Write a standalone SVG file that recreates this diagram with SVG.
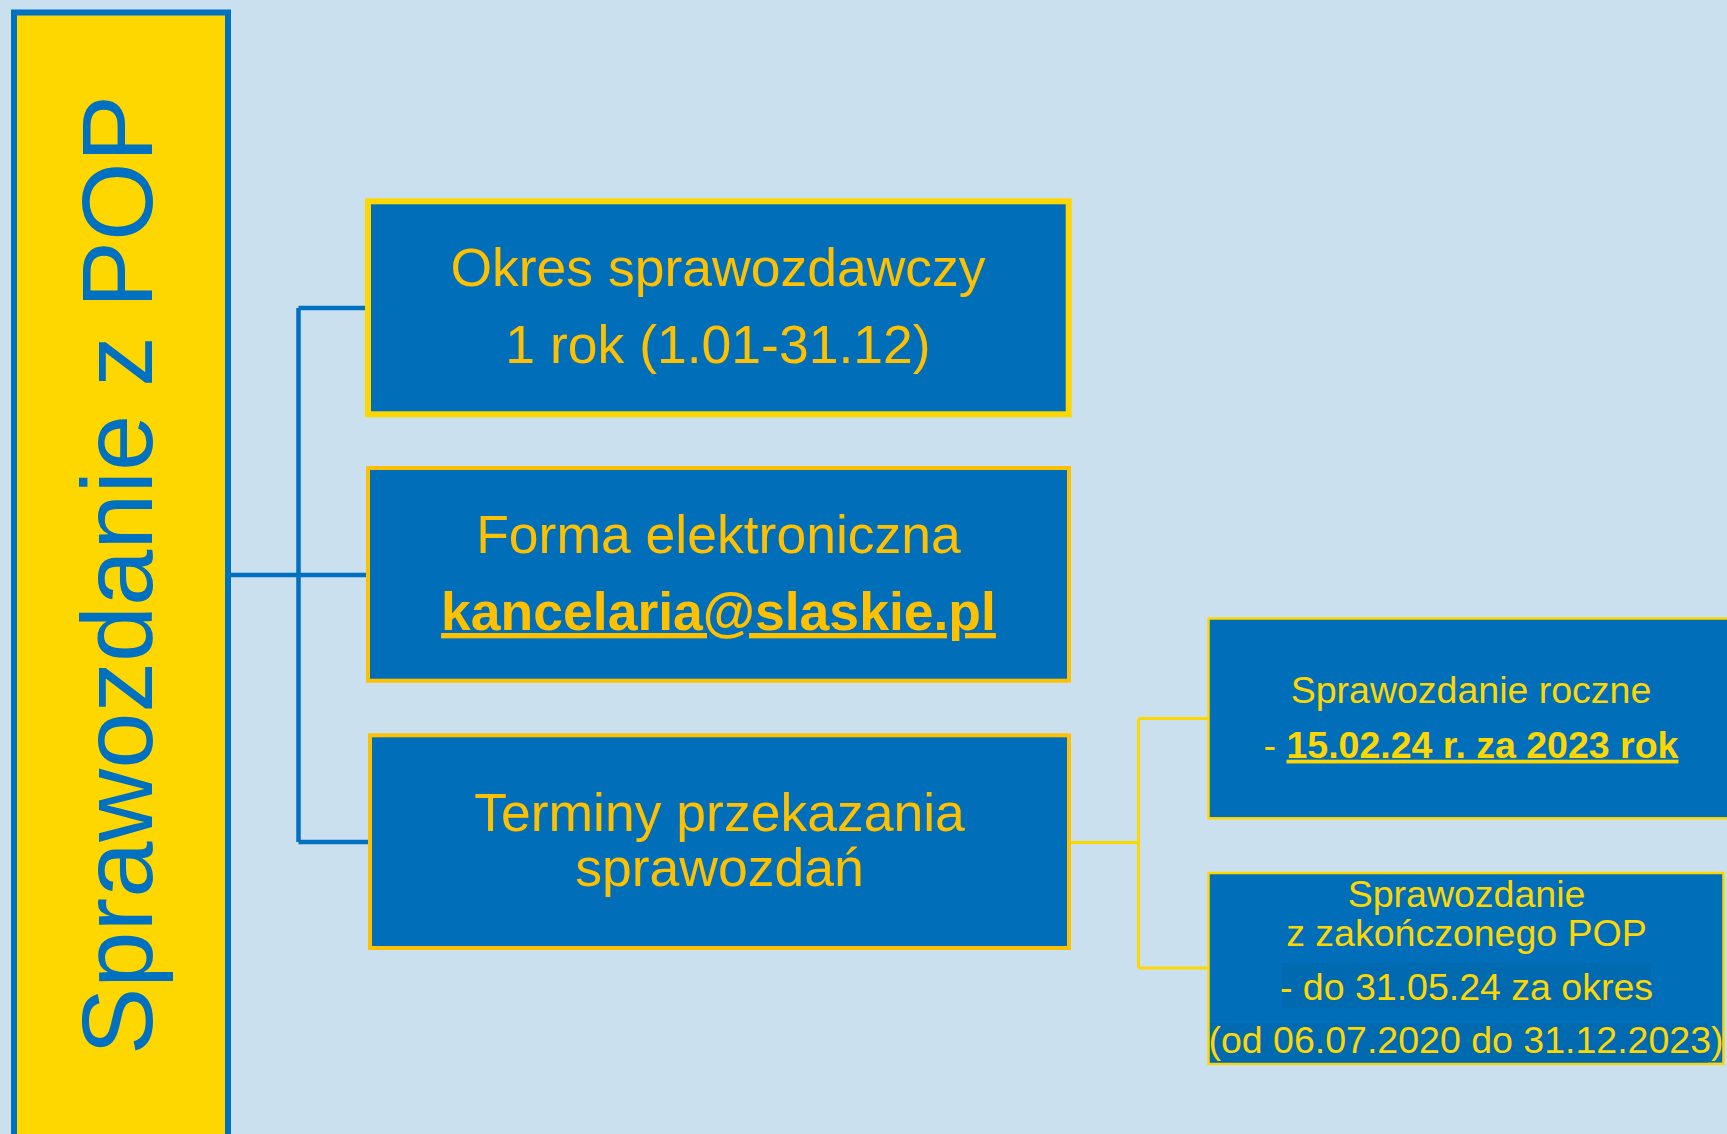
<svg xmlns="http://www.w3.org/2000/svg" width="1727" height="1134" viewBox="0 0 1727 1134">
<style>
  .t { font-family: "Liberation Sans", Arial, sans-serif; text-anchor: middle; }
  .big { font-size: 53.5px; fill: #FFC000; }
  .small { font-size: 37.5px; fill: #FFD700; }
  .box { fill: #006EB8; }
  .blue-line { stroke: #0070C0; stroke-width: 4.5; fill: none; }
  .yel-line { stroke: #FFD700; stroke-width: 3; fill: none; }
</style>
<rect x="0" y="0" width="1727" height="1134" fill="#CBE0EE"/>

<g id="connectors">
  <path class="blue-line" d="M231 575 H366 M298.5 308 V842 M298.5 308 H368 M298.5 842 H370"/>
  <path class="yel-line" d="M1071 842.5 H1138.5 M1138.5 718.5 V968 M1138.5 718.5 H1209 M1138.5 968 H1209"/>
</g>

<g id="root">
  <rect x="14" y="12.5" width="214" height="1130" fill="#FFD700" stroke="#0070C0" stroke-width="6"/>
  <text class="t" transform="translate(152,575) rotate(-90)" font-size="101" fill="#0070C0">Sprawozdanie z POP</text>
</g>

<g id="okres">
  <rect class="box" x="368" y="201.3" width="700.7" height="213" stroke="#FFD700" stroke-width="6"/>
  <text class="t big" x="718" y="286">Okres sprawozdawczy</text>
  <text class="t big" x="718" y="362.5">1 rok (1.01-31.12)</text>
</g>

<g id="forma">
  <rect class="box" x="368" y="468" width="701" height="212.7" stroke="#FFC000" stroke-width="4"/>
  <text class="t big" x="718.5" y="553.3">Forma elektroniczna</text>
  <text class="t big" x="718.5" y="630" font-weight="bold" text-decoration="underline">kancelaria@slaskie.pl</text>
</g>

<g id="terminy">
  <rect class="box" x="370" y="735.3" width="699" height="212.7" stroke="#FFC000" stroke-width="4"/>
  <text class="t big" x="719.5" y="831">Terminy przekazania</text>
  <text class="t big" x="719.5" y="885.7">sprawozdań</text>
</g>

<g id="roczne">
  <rect class="box" x="1208.5" y="618.5" width="530" height="199.8" stroke="#FFD700" stroke-width="2.5"/>
  <text class="t small" x="1471" y="702.7">Sprawozdanie roczne</text>
  <text class="t small" x="1471" y="757.7">- <tspan font-weight="bold" text-decoration="underline">15.02.24 r. za 2023 rok</tspan></text>
</g>

<g id="zakonczony">
  <rect class="box" x="1208.5" y="873" width="515" height="190.8" stroke="#FFD700" stroke-width="2.5"/>
  <rect x="1282" y="963" width="369" height="45" fill="#006AB1"/>
  <rect x="1210" y="1023" width="498" height="39.5" fill="#006AB1"/>
  <text class="t small" x="1466.5" y="906.7">Sprawozdanie</text>
  <text class="t small" x="1466.5" y="946">z zakończonego POP</text>
  <text class="t small" x="1466.5" y="1000">- do 31.05.24 za okres</text>
  <text class="t small" x="1466" y="1053.3">(od 06.07.2020 do 31.12.2023)</text>
</g>
</svg>
